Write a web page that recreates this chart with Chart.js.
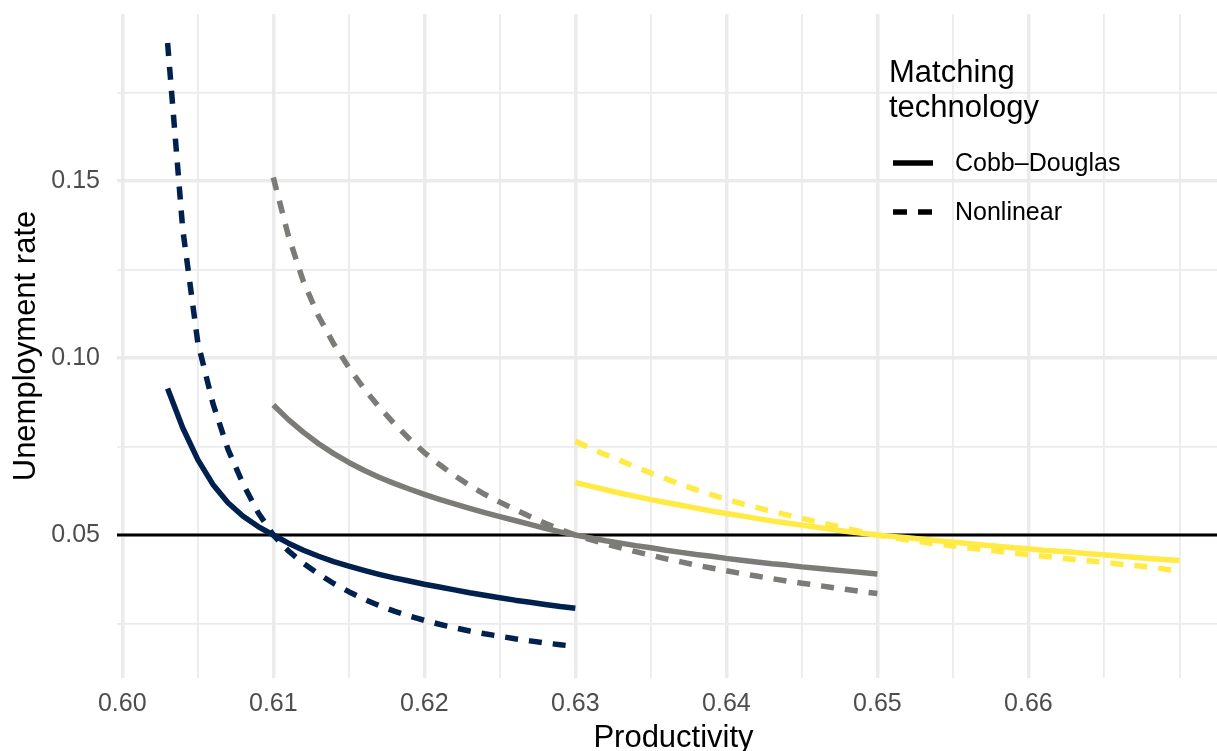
<!DOCTYPE html>
<html>
<head>
<meta charset="utf-8">
<style>
  body { margin: 0; background: #fff; }
  #wrap { width: 1217px; height: 751px; overflow: hidden; }
</style>
</head>
<body>
<div id="wrap"><canvas id="chart" width="1231" height="751"></canvas></div>

<script src="https://cdn.jsdelivr.net/npm/chart.js"></script>
<script>
// productivity grids, one per calibration
const xLow  = [0.603,0.604,0.605,0.606,0.607,0.608,0.609,0.610,0.611,0.612,0.613,0.614,0.615,0.616,0.617,0.618,0.619,0.620,0.621,0.622,0.623,0.624,0.625,0.626,0.627,0.628,0.629,0.630];
const xMid  = [0.610,0.611,0.612,0.613,0.614,0.615,0.616,0.617,0.618,0.619,0.620,0.621,0.622,0.623,0.624,0.625,0.626,0.627,0.628,0.629,0.630,0.631,0.632,0.633,0.634,0.635,0.636,0.637,0.638,0.639,0.640,0.641,0.642,0.643,0.644,0.645,0.646,0.647,0.648,0.649,0.650];
const xHigh = [0.630,0.631,0.632,0.633,0.634,0.635,0.636,0.637,0.638,0.639,0.640,0.641,0.642,0.643,0.644,0.645,0.646,0.647,0.648,0.649,0.650,0.651,0.652,0.653,0.654,0.655,0.656,0.657,0.658,0.659,0.660,0.661,0.662,0.663,0.664,0.665,0.666,0.667,0.668,0.669,0.670];

// unemployment rate, Cobb-Douglas (cd) and nonlinear (nl) matching
const cdLow  = [0.0914,0.0803,0.0713,0.0643,0.0591,0.0553,0.0524,0.0500,0.0477,0.0457,0.0440,0.0425,0.0412,0.0400,0.0389,0.0379,0.0370,0.0361,0.0353,0.0345,0.0337,0.0330,0.0323,0.0316,0.0310,0.0304,0.0298,0.0293];
const nlLow  = [0.1890,0.1365,0.1044,0.0872,0.0742,0.0644,0.0563,0.0500,0.0455,0.0420,0.0390,0.0363,0.0340,0.0319,0.0301,0.0285,0.0271,0.0259,0.0248,0.0238,0.0229,0.0221,0.0214,0.0207,0.0201,0.0195,0.0190,0.0185];
const cdMid  = [0.0867,0.0826,0.0790,0.0758,0.0730,0.0705,0.0683,0.0663,0.0646,0.0630,0.0615,0.0601,0.0588,0.0575,0.0563,0.0552,0.0541,0.0530,0.0519,0.0509,0.0500,0.0492,0.0484,0.0477,0.0470,0.0464,0.0457,0.0451,0.0445,0.0440,0.0434,0.0429,0.0424,0.0419,0.0415,0.0410,0.0406,0.0402,0.0398,0.0394,0.0390];
const nlMid  = [0.1510,0.1345,0.1215,0.1118,0.1040,0.0973,0.0914,0.0862,0.0815,0.0772,0.0733,0.0699,0.0668,0.0640,0.0615,0.0593,0.0572,0.0552,0.0533,0.0516,0.0500,0.0487,0.0475,0.0464,0.0453,0.0443,0.0433,0.0424,0.0415,0.0407,0.0399,0.0391,0.0384,0.0377,0.0370,0.0364,0.0358,0.0352,0.0346,0.0340,0.0335];
const cdHigh = [0.0648,0.0638,0.0628,0.0618,0.0609,0.0600,0.0592,0.0584,0.0576,0.0568,0.0561,0.0554,0.0547,0.0540,0.0534,0.0528,0.0522,0.0516,0.0510,0.0505,0.0500,0.0496,0.0492,0.0488,0.0484,0.0480,0.0476,0.0472,0.0468,0.0464,0.0461,0.0457,0.0454,0.0451,0.0447,0.0444,0.0441,0.0437,0.0434,0.0431,0.0428];
const nlHigh = [0.0765,0.0745,0.0727,0.0710,0.0692,0.0675,0.0659,0.0643,0.0628,0.0614,0.0601,0.0589,0.0578,0.0567,0.0557,0.0547,0.0537,0.0528,0.0518,0.0509,0.0500,0.0493,0.0486,0.0480,0.0474,0.0469,0.0464,0.0459,0.0454,0.0449,0.0445,0.0440,0.0436,0.0431,0.0427,0.0423,0.0418,0.0414,0.0410,0.0404,0.0400];

const targetRate = 0.05;
const xLabels = ['0.60','0.61','0.62','0.63','0.64','0.65','0.66'];
const yLabels = ['0.05','0.10','0.15'];

const navy = '#00204D', grey = '#7C7B78', yellow = '#FFEA46';
const FONT = '"Liberation Sans", Arial, sans-serif';
const xMin = 0.59965, xMax = 0.67335;

function pts(xs, ys) {
    return xs.map((x, i) => ({ x: x, y: ys[i] }));
}

function line(data, color, dashed) {
    return {
        data: data,
        borderColor: color,
        borderWidth: 5.5,
        borderDash: dashed ? [13, 11] : [],
        borderCapStyle: 'butt',
        borderJoinStyle: 'round',
        pointRadius: 0,
        tension: 0,
        fill: false
    };
}

const isMajor = (v, step) => Math.abs(v / step - Math.round(v / step)) < 1e-6;

// titles and legend, drawn on top of the chart
const decorations = {
    id: 'decorations',
    afterDraw(chart) {
        const c = chart.ctx;
        c.save();
        c.fillStyle = '#000';
        c.font = '31px ' + FONT;
        c.textAlign = 'center';
        c.textBaseline = 'alphabetic';
        c.fillText('Productivity', (chart.chartArea.left + chart.chartArea.right) / 2, 747);

        c.save();
        c.translate(35, (chart.chartArea.top + chart.chartArea.bottom) / 2);
        c.rotate(-Math.PI / 2);
        c.fillText('Unemployment rate', 0, 0);
        c.restore();

        // legend
        c.textAlign = 'left';
        c.fillText('Matching', 889, 82);
        c.fillText('technology', 889, 117);

        c.strokeStyle = '#000';
        c.lineWidth = 5.5;
        c.lineCap = 'butt';
        c.beginPath();
        c.moveTo(893, 163); c.lineTo(933, 163);
        c.stroke();
        c.setLineDash([14, 11]);
        c.beginPath();
        c.moveTo(893, 212); c.lineTo(933, 212);
        c.stroke();
        c.setLineDash([]);

        c.font = '25px ' + FONT;
        c.textBaseline = 'middle';
        c.fillText('Cobb\u2013Douglas', 955, 164);
        c.fillText('Nonlinear', 955, 213);
        c.restore();
    }
};

const ctx = document.getElementById('chart').getContext('2d');

const chart = new Chart(ctx, {
    type: 'line',
    data: {
        datasets: [
            line(pts(xHigh, cdHigh), yellow, false),
            line(pts(xHigh, nlHigh), yellow, true),
            line(pts(xMid, cdMid), grey, false),
            line(pts(xMid, nlMid), grey, true),
            line(pts(xLow, cdLow), navy, false),
            line(pts(xLow, nlLow), navy, true),
            Object.assign(line([{ x: xMin, y: targetRate }, { x: xMax, y: targetRate }], '#000', false),
                { borderWidth: 2.8, order: 10 })
        ]
    },
    options: {
        responsive: false,
        animation: false,
        layout: { padding: { top: 14, right: 1, left: 0, bottom: 0 } },
        plugins: {
            legend: { display: false },
            tooltip: { enabled: false }
        },
        scales: {
            x: {
                type: 'linear',
                min: xMin,
                max: xMax,
                afterFit(scale) {
                    scale.height = 73;
                    scale.paddingLeft = 0;
                    scale.paddingRight = 0;
                },
                border: { display: false },
                grid: {
                    drawTicks: false,
                    color: '#ebebeb',
                    lineWidth: c => (isMajor(c.tick.value, 0.01) && c.tick.value < 0.665) ? 3.5 : 1.8
                },
                ticks: {
                    stepSize: 0.005,
                    includeBounds: false,
                    autoSkip: false,
                    maxRotation: 0,
                    padding: 11,
                    color: '#4d4d4d',
                    font: { family: FONT, size: 25 },
                    callback: v => {
                        const s = v.toFixed(2);
                        return (isMajor(v, 0.01) && xLabels.includes(s)) ? s : '';
                    }
                }
            },
            y: {
                type: 'linear',
                min: 0.00961,
                max: 0.19718,
                afterFit(scale) {
                    scale.width = 117;
                    scale.paddingTop = 0;
                    scale.paddingBottom = 0;
                },
                border: { display: false },
                grid: {
                    drawTicks: false,
                    color: '#ebebeb',
                    lineWidth: c => isMajor(c.tick.value, 0.05) ? 3.5 : 1.8
                },
                ticks: {
                    stepSize: 0.025,
                    includeBounds: false,
                    padding: 17,
                    color: '#4d4d4d',
                    font: { family: FONT, size: 25 },
                    callback: v => {
                        const s = v.toFixed(2);
                        return (isMajor(v, 0.05) && yLabels.includes(s)) ? s : '';
                    }
                }
            }
        }
    },
    plugins: [decorations]
});
</script>
</body>
</html>
